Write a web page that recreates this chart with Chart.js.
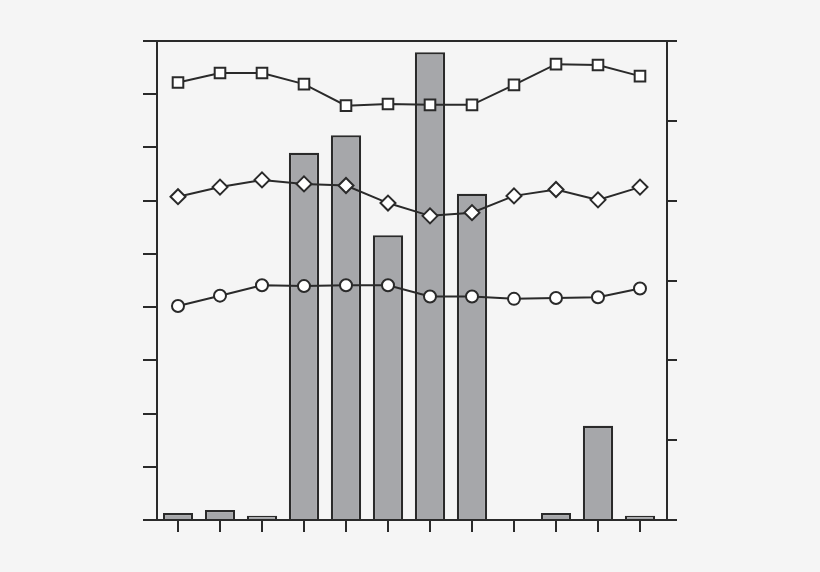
<!DOCTYPE html>
<html>
<head>
<meta charset="utf-8">
<script src="https://cdn.jsdelivr.net/npm/chart.js@4"></script>
<style>
  html, body { margin: 0; padding: 0; background: #f5f5f5; }
  #wrap { width: 820px; height: 572px; position: relative; }
</style>
</head>
<body>
<div id="wrap"><canvas id="graph"></canvas></div>
<script>
'use strict'

// 12 sampling points, no labels printed on the original
let categories = ['1', '2', '3', '4', '5', '6', '7', '8', '9', '10', '11', '12'];
// bars, left axis
let barValues = [1.3, 1.9, 0.8, 69.0, 72.3, 53.5, 87.9, 61.3, null, 1.3, 17.7, 0.8];
// lines, right axis
let squareValues = [54.8, 56.0, 56.0, 54.6, 51.9, 52.1, 52.0, 52.0, 54.5, 57.1, 57.0, 55.6];
let diamondValues = [40.5, 41.7, 42.6, 42.1, 41.9, 39.7, 38.1, 38.5, 40.6, 41.4, 40.1, 41.7];
let circleValues = [26.8, 28.1, 29.4, 29.3, 29.4, 29.4, 28.0, 28.0, 27.7, 27.8, 27.9, 29.0];
let leftTicks = [0, 10, 20, 30, 40, 50, 60, 70, 80, 90];
let rightTicks = [0, 10, 20, 30, 40, 50, 60];

let ink = '#2a2a2a';

function points (arr) {
    return arr.map((v, i) => ({x: i, y: v}));
}

function lineSet (arr, style, r) {
    return {
        type: 'line',
        data: points(arr),
        yAxisID: 'y1',
        borderColor: ink,
        borderWidth: 2,
        tension: 0,
        pointStyle: style,
        pointRadius: r,
        pointBackgroundColor: '#ffffff',
        pointBorderColor: ink,
        pointBorderWidth: 2,
        order: 0
    };
}

function setTicks (vals) {
    return function (scale) {
        scale.ticks = vals.map(v => ({value: v}));
    };
}

function tickGrid (len) {
    return {display: true, drawOnChartArea: false, drawTicks: true, tickLength: len, color: ink, lineWidth: 2, offset: false};
}

new Chart('graph', {
    type: 'bar',
    data: {
        datasets: [
            lineSet(squareValues, 'rect', 7.5),
            lineSet(diamondValues, 'rectRot', 7.5),
            lineSet(circleValues, 'circle', 6),
            {
                type: 'bar',
                data: points(barValues),
                yAxisID: 'y',
                backgroundColor: '#a6a7aa',
                borderColor: ink,
                borderWidth: 2.2,
                barPercentage: 0.9,
                categoryPercentage: 0.8,
                order: 1
            }
        ]
    },
    options: {
        responsive: true,
        maintainAspectRatio: false,
        animation: false,
        layout: {padding: {left: 143, right: 143, top: 41, bottom: 40}},
        plugins: {legend: {display: false}, tooltip: {enabled: false}},
        scales: {
            x: {
                type: 'linear',
                position: 'bottom',
                min: -0.5,
                max: 11.643,
                offset: false,
                afterBuildTicks: setTicks(categories.map((c, i) => i)),
                ticks: {display: false},
                grid: tickGrid(12),
                border: {display: true, color: ink, width: 2},
                afterFit: s => { s.height = 12; }
            },
            x2: {
                type: 'linear',
                axis: 'x',
                position: 'top',
                min: -0.5,
                max: 11.643,
                offset: false,
                ticks: {display: false},
                grid: {display: false, drawTicks: false},
                border: {display: true, color: ink, width: 2},
                afterFit: s => { s.height = 0; }
            },
            y: {
                type: 'linear',
                position: 'left',
                min: 0,
                max: 90,
                afterBuildTicks: setTicks(leftTicks),
                ticks: {display: false},
                grid: tickGrid(14),
                border: {display: true, color: ink, width: 2},
                afterFit: s => { s.width = 14; }
            },
            y1: {
                type: 'linear',
                position: 'right',
                min: 0,
                max: 60,
                afterBuildTicks: setTicks(rightTicks),
                ticks: {display: false},
                grid: tickGrid(10),
                border: {display: true, color: ink, width: 2},
                afterFit: s => { s.width = 10; }
            }
        }
    }
});
</script>
</body>
</html>
